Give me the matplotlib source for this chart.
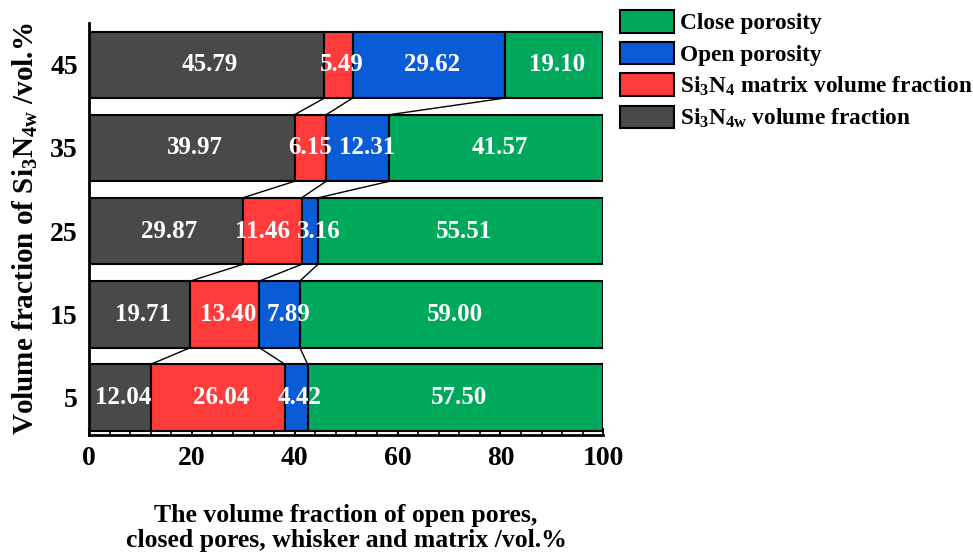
import matplotlib
matplotlib.use('Agg')
import matplotlib.pyplot as plt
import numpy as np
from matplotlib.patches import Patch
from matplotlib.ticker import MultipleLocator

plt.rcParams['font.family'] = ['Liberation Serif', 'DejaVu Serif']
plt.rcParams['font.weight'] = 'bold'
plt.rcParams['mathtext.fontset'] = 'custom'
plt.rcParams['mathtext.rm'] = 'Liberation Serif:bold'
plt.rcParams['mathtext.it'] = 'Liberation Serif:bold'
plt.rcParams['mathtext.bf'] = 'Liberation Serif:bold'
plt.rcParams['mathtext.default'] = 'rm'

categories = ['5', '15', '25', '35', '45']
whisker = [12.04, 19.71, 29.87, 39.97, 45.79]
matrix = [26.04, 13.40, 11.46, 6.15, 5.49]
open_por = [4.42, 7.89, 3.16, 12.31, 29.62]
close_por = [57.50, 59.00, 55.51, 41.57, 19.10]

c_gray = '#494949'
c_red = '#ff3b3b'
c_blue = '#0a5bd6'
c_green = '#00a85c'

# small horizontal nudges of value labels (category index, series index) -> x shift
label_nudge = {(2, 1): -2.5, (2, 2): 1.2, (3, 1): -0.6, (3, 2): 1.2, (1, 2): 1.2}

fig = plt.figure(figsize=(9.73, 5.52), dpi=100)
ax = fig.add_axes([0.0915, 0.212, 0.5285, 0.746])

y = np.arange(len(categories))
series = [(whisker, c_gray), (matrix, c_red), (open_por, c_blue), (close_por, c_green)]
left = np.zeros(len(categories))
bounds = []
for si, (vals, col) in enumerate(series):
    vals = np.array(vals)
    ax.barh(y, vals, left=left, height=0.8, color=col, edgecolor='black', linewidth=1.5, zorder=2)
    for ci, (yi, l, v) in enumerate(zip(y, left, vals)):
        dx = 0.6 + label_nudge.get((ci, si), 0.0)
        ax.text(l + v / 2 + dx, yi, f'{v:.2f}', ha='center', va='center', color='white',
                fontsize=18, fontweight='bold', zorder=4)
    left = left + vals
    bounds.append(left.copy())

# connecting lines between internal boundaries
for k in range(3):
    b = bounds[k]
    for i in range(len(categories) - 1):
        ax.plot([b[i], b[i + 1]], [y[i] + 0.4, y[i + 1] - 0.4], color='black', lw=1, zorder=3)

ax.set_xlim(0, 100)
ax.set_ylim(-0.45, 4.5)
ax.set_yticks(y)
ax.set_yticklabels(categories, fontsize=20, fontweight='bold')
ax.tick_params(axis='y', length=0, pad=8)
ax.xaxis.set_major_locator(MultipleLocator(20))
ax.xaxis.set_minor_locator(MultipleLocator(4))
ax.tick_params(axis='x', which='major', direction='in', length=5, width=1.5, labelsize=20, pad=8)
ax.tick_params(axis='x', which='minor', direction='in', length=2.5, width=1.2)
for lab in ax.get_xticklabels():
    lab.set_fontweight('bold')
ax.spines['top'].set_visible(False)
ax.spines['right'].set_visible(False)
ax.spines['left'].set_linewidth(2)
ax.spines['bottom'].set_linewidth(2)

ax.set_xlabel('The volume fraction of open pores,\nclosed pores, whisker and matrix /vol.%',
              fontsize=18.5, fontweight='bold', labelpad=24, linespacing=1.1)
ax.set_ylabel(r'Volume fraction of Si$_3$N$_{4w}$ /vol.%', fontsize=21, fontweight='bold', labelpad=7)

handles = [Patch(facecolor=c_green, edgecolor='black', linewidth=1.5),
           Patch(facecolor=c_blue, edgecolor='black', linewidth=1.5),
           Patch(facecolor=c_red, edgecolor='black', linewidth=1.5),
           Patch(facecolor=c_gray, edgecolor='black', linewidth=1.5)]
labels = ['Close porosity', 'Open porosity', r'Si$_3$N$_4$ matrix volume fraction',
          r'Si$_3$N$_{4w}$ volume fraction']
fig.legend(handles, labels, loc='upper left', bbox_to_anchor=(620 / 973, 1 - 10 / 552),
           frameon=False, handlelength=2.3, handleheight=1.12,
           handletextpad=0.25, labelspacing=0.32, borderaxespad=0, borderpad=0,
           prop={'weight': 'bold', 'size': 16.8})

fig.savefig('out.png', dpi=100)
